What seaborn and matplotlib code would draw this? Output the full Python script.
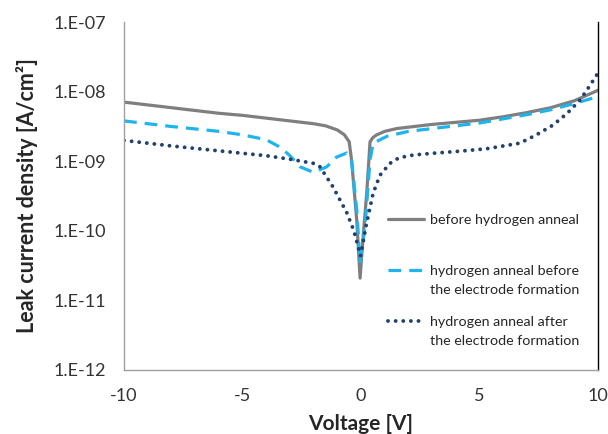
import numpy as np
import pandas as pd
import matplotlib
matplotlib.use('Agg')
import matplotlib.pyplot as plt
import seaborn as sns
from matplotlib.ticker import FixedLocator, FuncFormatter

# voltage [V] and log10 of leak current density [A/cm2]
v_before = [-10, -9, -8, -7, -6, -5, -4, -3, -2, -1.5, -1, -0.7, -0.5, -0.4, -0.18, -0.04,
            0.1, 0.24, 0.38, 0.5, 0.66, 1, 1.5, 2, 3, 4, 5, 6, 7, 8, 9, 10]
log_before = [-8.15, -8.19, -8.23, -8.27, -8.31, -8.34, -8.38, -8.42, -8.46, -8.49, -8.55,
              -8.62, -8.72, -8.98, -9.85, -10.68, -10.03, -9.46, -8.72, -8.66, -8.62, -8.57,
              -8.53, -8.51, -8.47, -8.44, -8.41, -8.36, -8.30, -8.23, -8.13, -7.98]

v_h_before = [-10, -8, -6, -5, -4, -3.4, -3, -2.57, -2, -1.45, -1.03, -0.6, -0.4, -0.18,
              -0.04, 0.17, 0.38, 0.51, 1.1, 2, 3, 4, 5, 6, 7, 8, 9, 10]
log_h_before = [-8.42, -8.50, -8.57, -8.62, -8.69, -8.80, -8.92, -9.08, -9.16, -9.08, -8.94,
                -8.88, -8.98, -9.70, -10.46, -9.94, -8.98, -8.74, -8.64, -8.57, -8.53,
                -8.49, -8.45, -8.39, -8.33, -8.26, -8.17, -8.07]

v_h_after = [-10, -8, -6, -4, -3, -2, -1.73, -1.18, -0.6, -0.3, -0.02, 0.2, 0.51, 0.8, 1.22,
             1.6, 2.2, 3.2, 4, 5.3, 6.7, 7.4, 8.1, 8.7, 9.24, 9.66, 10]
log_h_after = [-8.70, -8.78, -8.85, -8.92, -8.97, -9.03, -9.08, -9.37, -9.74, -10.0, -10.36,
               -9.95, -9.46, -9.20, -9.03, -8.95, -8.91, -8.88, -8.86, -8.82, -8.74, -8.62,
               -8.48, -8.31, -8.12, -7.91, -7.73]

labels = ['before hydrogen anneal',
          'hydrogen anneal before\nthe electrode formation',
          'hydrogen anneal after\nthe electrode formation']
colors = ['#7f7f7f', '#1fb4ec', '#23416f']
ytick_vals = [1e-12, 1e-11, 1e-10, 1e-9, 1e-8, 1e-7]

sns.set_style('white')
plt.rcParams['font.family'] = ['Lato', 'DejaVu Sans']
plt.rcParams['axes.unicode_minus'] = False

fig = plt.figure(figsize=(6.08, 4.34), dpi=100)
ax = fig.add_axes([0.204, 0.1475, 0.7796, 0.8015])

df1 = pd.DataFrame({'V': v_before, 'J': 10 ** np.array(log_before)})
df2 = pd.DataFrame({'V': v_h_before, 'J': 10 ** np.array(log_h_before)})
df3 = pd.DataFrame({'V': v_h_after, 'J': 10 ** np.array(log_h_after)})

sns.lineplot(data=df1, x='V', y='J', ax=ax, color=colors[0], lw=2.3, label=labels[0])
sns.lineplot(data=df2, x='V', y='J', ax=ax, color=colors[1], lw=2.3,
             linestyle=(0, (4, 2.5)), label=labels[1])
sns.lineplot(data=df3, x='V', y='J', ax=ax, color=colors[2], lw=2.8,
             linestyle=(0, (0.01, 1.95)), dash_capstyle='round', label=labels[2])

ax.set_yscale('log')
ax.set_xlim(-10, 10)
ax.set_ylim(1e-12, 1e-7)
ax.yaxis.set_major_locator(FixedLocator(ytick_vals))
ax.yaxis.set_minor_locator(FixedLocator([]))
ax.yaxis.set_major_formatter(FuncFormatter(lambda y, p: '1.E%03d' % round(np.log10(y))))
ax.set_xticks([-10, -5, 0, 5, 10])

ax.tick_params(axis='both', which='major', direction='in', length=4, width=1,
               color='#a0a0a0', labelsize=13, labelcolor='#333333')
ax.tick_params(axis='y', pad=13)
ax.tick_params(axis='x', pad=13)

for s in ['left', 'bottom']:
    ax.spines[s].set_color('#a0a0a0')
    ax.spines[s].set_linewidth(1)
ax.spines['right'].set_color('black')
ax.spines['right'].set_linewidth(1)
ax.spines['top'].set_visible(False)

ax.set_xlabel('Voltage [V]', fontsize=15, fontweight='bold', labelpad=7)
ax.set_ylabel('Leak current density [A/cm²]', fontsize=15.5, fontweight='bold', labelpad=11)

# legend: first entry alone, the two-line entries a bit lower (as in the original)
handles, labs = ax.get_legend_handles_labels()
leg_kw = dict(loc='upper left', frameon=False, fontsize=10.3,
              handlelength=2.5, handletextpad=0.4)
leg1 = ax.legend(handles[:1], labs[:1], bbox_to_anchor=(0.53, 0.485), **leg_kw)
ax.add_artist(leg1)
leg2 = ax.legend(handles[1:], labs[1:], bbox_to_anchor=(0.53, 0.34),
                 labelspacing=1.4, **leg_kw)
for t in leg2.get_texts():
    t.set_linespacing(1.7)
# put the handles of the two-line entries next to their first line
for h in leg2.legend_handles:
    h.set_ydata(np.asarray(h.get_ydata()) + 7.5)

fig.savefig('out.png', dpi=100)
